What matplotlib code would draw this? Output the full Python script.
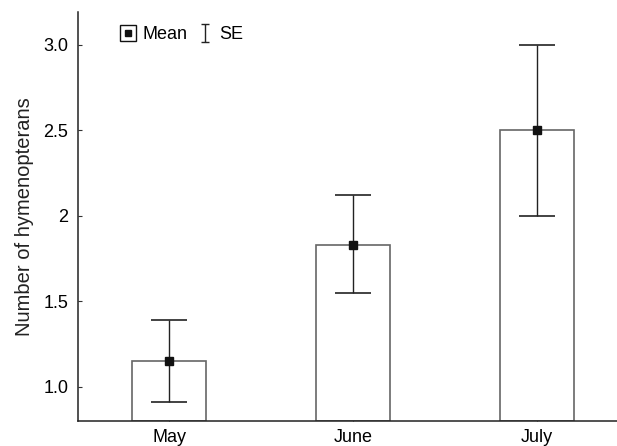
import matplotlib.pyplot as plt
from matplotlib.lines import Line2D
from matplotlib.path import Path
from matplotlib.legend_handler import HandlerTuple

plt.rcParams['font.family'] = ['Liberation Sans', 'DejaVu Sans']

months = ['May', 'June', 'July']
means = [1.15, 1.83, 2.5]
se_low = [0.91, 1.55, 2.0]
se_high = [1.39, 2.12, 3.0]
yticks = [1.0, 1.5, 2.0, 2.5, 3.0]
ytick_labels = ['1.0', '1.5', '2', '2.5', '3.0']

fig = plt.figure(figsize=(6.17, 4.46), dpi=100)
ax = fig.add_axes([78 / 617, 25 / 446, 539 / 617, 409 / 446])

x = list(range(len(months)))
# bars drawn from the bottom of the axis
bottom = 0.8
ax.bar(x, [m - bottom for m in means], bottom=bottom, width=0.4,
       facecolor='white', edgecolor='#666666', linewidth=1.2, zorder=2)

yerr = [[m - l for m, l in zip(means, se_low)],
        [h - m for m, h in zip(means, se_high)]]
eb = ax.errorbar(x, means, yerr=yerr, fmt='none', ecolor='#222222',
                 elinewidth=1.0, capsize=13.3, capthick=1.2, zorder=3)
for cap in eb[1]:
    cap.set_color('#444444')
ax.plot(x, means, 's', color='#111111', markersize=6, zorder=4)

ax.set_xlim(-0.495, 2.435)
ax.set_ylim(0.8, 3.19)
ax.set_xticks(x)
ax.set_xticklabels(months, fontsize=13)
ax.set_yticks(yticks)
ax.set_yticklabels(ytick_labels, fontsize=13)
ax.tick_params(direction='in', length=3, color='#333333')
ax.tick_params(axis='x', pad=6)
ax.tick_params(axis='y', pad=7)
ax.set_ylabel('Number of hymenopterans', fontsize=14.5, color='#222222', labelpad=7)

for s in ['top', 'right']:
    ax.spines[s].set_visible(False)
for s in ['left', 'bottom']:
    ax.spines[s].set_color('#222222')
    ax.spines[s].set_linewidth(1.1)

# legend: boxed mean marker and I-beam for SE
outer = Line2D([], [], marker='s', linestyle='none', markersize=11,
               markerfacecolor='white', markeredgecolor='#111111', markeredgewidth=1.0)
inner = Line2D([], [], marker='s', linestyle='none', markersize=5, color='#111111')
ibeam = Path([(-0.4, 1), (0.4, 1), (0, 1), (0, -1), (-0.4, -1), (0.4, -1)],
             [Path.MOVETO, Path.LINETO, Path.MOVETO, Path.LINETO, Path.MOVETO, Path.LINETO])
se_handle = Line2D([], [], marker=ibeam, linestyle='none', markersize=13,
                   markerfacecolor='none', markeredgecolor='#222222', markeredgewidth=1.0)
ax.legend([(outer, inner), se_handle], ['Mean', 'SE'], ncol=2, frameon=False,
          loc='center left', bbox_to_anchor=(0.078, 0.944), fontsize=13,
          handlelength=0.9, handletextpad=0.35, columnspacing=0.5,
          borderpad=0, borderaxespad=0,
          handler_map={tuple: HandlerTuple(ndivide=1, pad=0)})

fig.savefig('out.png', dpi=100)
